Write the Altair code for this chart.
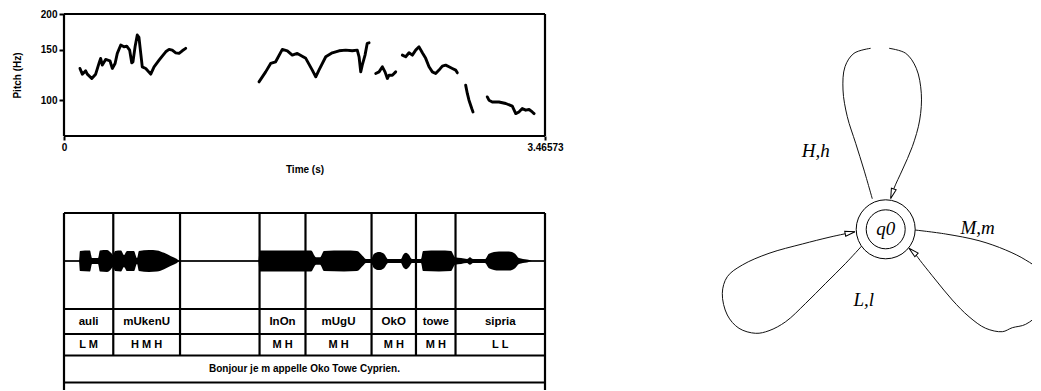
import math
import altair as alt
import pandas as pd

DUR = 3.46573

# ---------------- pitch track (time s, Hz) ----------------
seg1_t = [0.115, 0.132, 0.156, 0.168, 0.200, 0.228, 0.252, 0.264, 0.276, 0.300, 0.331, 0.348, 0.368,
          0.384, 0.409, 0.432, 0.452, 0.473, 0.488, 0.497, 0.512, 0.528, 0.540, 0.553, 0.564, 0.589,
          0.625, 0.649, 0.685, 0.708, 0.733, 0.757, 0.780, 0.805, 0.829, 0.852, 0.877]
seg1_f = [129.1, 123.3, 126.6, 123.3, 119.1, 123.3, 134.4, 140.0, 132.6, 138.8, 137.3, 129.1, 134.4,
          145.7, 155.8, 153.6, 154.5, 149.6, 135.1, 136.2, 153.6, 168.9, 165.8, 145.7, 130.8, 129.1,
          123.3, 130.8, 138.0, 142.6, 147.6, 150.5, 149.6, 146.4, 145.7, 148.8, 151.7]
seg2_t = [1.405, 1.453, 1.489, 1.525, 1.573, 1.609, 1.645, 1.681, 1.742, 1.789, 1.814, 1.837, 1.886,
          1.933, 1.982, 2.030, 2.077, 2.113, 2.126, 2.138, 2.149, 2.169, 2.185, 2.198]
seg2_f = [115.9, 125.6, 134.4, 136.2, 150.5, 148.8, 143.7, 145.7, 140.0, 127.4, 120.7, 127.4, 141.8,
          146.4, 148.8, 149.6, 148.8, 149.6, 141.8, 125.6, 132.6, 143.7, 158.0, 158.7]
seg3_t = [2.246, 2.270, 2.294, 2.313, 2.330, 2.342, 2.366, 2.390]
seg3_f = [124.0, 125.6, 130.8, 125.6, 119.1, 122.3, 122.3, 125.6]
seg4_t = [2.438, 2.462, 2.486, 2.510, 2.534, 2.558, 2.582, 2.606, 2.630, 2.654, 2.678, 2.702, 2.726,
          2.750, 2.774, 2.798, 2.822, 2.834]
seg4_f = [143.7, 141.8, 146.4, 143.7, 149.6, 153.6, 146.4, 140.0, 130.8, 125.6, 124.0, 127.4, 131.5,
          132.6, 130.8, 129.1, 127.4, 124.6]
seg5_t = [2.894, 2.906, 2.918, 2.938, 2.947]
seg5_f = [112.9, 105.6, 100.0, 93.5, 91.0]
seg6_t = [3.050, 3.062, 3.086, 3.134, 3.183, 3.230, 3.255, 3.278, 3.302, 3.327, 3.351, 3.374, 3.387]
seg6_f = [102.7, 100.0, 98.6, 98.6, 97.4, 95.3, 89.8, 91.0, 93.5, 92.3, 92.8, 91.0, 89.8]
F_MIN, F_MAX = 75, 200
F_TICKS = [100, 150, 200]

# ---------------- waveform envelope (time s, relative amplitude) ----------------
env_t = [0.000, 0.108, 0.115, 0.187, 0.202, 0.245, 0.259, 0.310, 0.339, 0.353, 0.368, 0.411, 0.432,
         0.454, 0.504, 0.526, 0.540, 0.613, 0.670, 0.721, 0.771, 0.814, 0.829, 1.401, 1.409, 1.780,
         1.816, 1.845, 1.873, 2.018, 2.111, 2.154, 2.176, 2.212, 2.234, 2.270, 2.306, 2.335, 2.428,
         2.443, 2.464, 2.486, 2.507, 2.572, 2.587, 2.702, 2.789, 2.817, 2.861, 2.904, 2.925, 2.947,
         3.033, 3.062, 3.134, 3.206, 3.250, 3.278, 3.336, 3.372, 3.466]
env_a = [0.01, 0.01, 0.21, 0.22, 0.06, 0.06, 0.22, 0.23, 0.17, 0.125, 0.21, 0.22, 0.125,
         0.21, 0.21, 0.06, 0.21, 0.23, 0.22, 0.17, 0.10, 0.04, 0.01, 0.01, 0.22, 0.22,
         0.08, 0.08, 0.21, 0.22, 0.21, 0.10, 0.04, 0.04, 0.15, 0.19, 0.15, 0.04, 0.04,
         0.125, 0.17, 0.125, 0.04, 0.04, 0.21, 0.22, 0.21, 0.08, 0.06, 0.04, 0.08, 0.04,
         0.04, 0.15, 0.20, 0.20, 0.15, 0.06, 0.03, 0.01, 0.01]

# ---------------- annotation tiers ----------------
bounds_t = [0.0, 0.355, 0.836, 1.409, 1.740, 2.216, 2.536, 2.821, DUR]
words = ["auli", "mUkenU", "", "InOn", "mUgU", "OkO", "towe", "sipria"]
tones = ["L M", "H M H", "", "M H", "M H", "M H", "M H", "L L"]
sentence = "Bonjour je m appelle Oko Towe Cyprien."

# ---------------- automaton (px units relative to state centre, y up) ----------------
top_dx = [-13.4, -21.7, -30.0, -38.4, -42.7, -40.7, -31.7, -15.0, 3.3, 20.0, 30.6, 35.6, 34.0, 26.6, 16.6, 8.3, 5.0]
top_dy = [30.5, 59.3, 86.0, 112.6, 139.3, 162.6, 176.0, 181.0, 181.0, 176.0, 161.0, 136.0, 109.3, 82.6, 59.3, 41.0, 30.8]
left_dx = [-24.0, -40.0, -60.0, -80.0, -100.0, -116.7, -130.0, -146.7, -158.4, -163.4, -158.4, -143.4, -116.7, -83.4, -56.7, -41.7, -30.7]
left_dy = [-16.7, -34.0, -54.0, -74.0, -92.4, -101.4, -104.0, -99.0, -85.7, -64.0, -47.4, -35.7, -24.0, -14.7, -8.0, -4.7, -2.4]
right_dx = [29.3, 60.0, 93.3, 120.0, 140.0, 153.3, 162.0, 155.0, 140.0, 126.6, 116.6, 100.0, 83.3, 66.6, 50.0, 36.6, 28.3, 23.3]
right_dy = [-0.7, -4.7, -11.4, -20.7, -30.7, -40.7, -60.0, -82.0, -95.0, -98.4, -102.4, -99.0, -87.4, -70.7, -50.7, -34.0, -23.4, -19.0]
edge_labels = ["H,h", "M,m", "L,l"]
edge_lx = [-70.0, 92.0, -22.0]
edge_ly = [78.0, 1.0, -71.0]
state_name = "q0"

SANS = "Liberation Sans"
SERIF = "Liberation Serif"

# ======== pitch panel ========
rows = []
for i, (ts, fs) in enumerate([(seg1_t, seg1_f), (seg2_t, seg2_f), (seg3_t, seg3_f),
                              (seg4_t, seg4_f), (seg5_t, seg5_f), (seg6_t, seg6_f)]):
    for t, f in zip(ts, fs):
        rows.append({"t": t, "f": f, "seg": i})
pitch_df = pd.DataFrame(rows)

xs_p = alt.Scale(domain=[0, DUR], nice=False, zero=False)
ys_p = alt.Scale(type="log", domain=[F_MIN, F_MAX], nice=False)

pitch_line = alt.Chart(pitch_df).mark_line(
    color="black", strokeWidth=2.9, strokeJoin="round", strokeCap="round"
).encode(
    x=alt.X("t:Q", scale=xs_p,
            axis=alt.Axis(values=[0, DUR], format=".6", title="Time (s)", grid=False, domain=False,
                          tickSize=4, tickWidth=2, tickColor="black", labelPadding=2,
                          labelFont=SANS, labelFontSize=10, labelFontWeight="bold", labelColor="black",
                          labelFlush=False, titleFont=SANS, titleFontSize=10, titleFontWeight="bold",
                          titleColor="black", titlePadding=12)),
    y=alt.Y("f:Q", scale=ys_p,
            axis=alt.Axis(values=F_TICKS, title="Pitch (Hz)", grid=False, domain=False,
                          tickSize=5, tickWidth=2, tickColor="black", labelPadding=2,
                          labelFont=SANS, labelFontSize=10, labelFontWeight="bold", labelColor="black",
                          labelFlush=False, titleFont=SANS, titleFontSize=10, titleFontWeight="bold",
                          titleColor="black", titlePadding=18)),
    detail="seg:N",
)
box_h = alt.Chart(pd.DataFrame({"t": [0.0, 0.0], "t2": [DUR, DUR], "f": [F_MIN, F_MAX]})).mark_rule(
    color="black", strokeWidth=2.2).encode(x="t:Q", x2="t2:Q", y="f:Q")
box_v = alt.Chart(pd.DataFrame({"t": [0.0, DUR], "f": [F_MIN, F_MIN], "f2": [F_MAX, F_MAX]})).mark_rule(
    color="black", strokeWidth=2.2).encode(x="t:Q", y="f:Q", y2="f2:Q")
pitch = alt.layer(pitch_line, box_h, box_v).properties(width=481, height=122)

# ======== tier panel (y in px units from top of box) ========
WAVE_C, WAVE_H = 48, 48
Y_LINES = [0, 96, 121, 142.5, 169.5]
Y_BOUND_END, Y_STUB = 142.5, 177
Y_WORD, Y_TONE, Y_SENT = 108.5, 132, 156

xs_t = alt.Scale(domain=[0, DUR], nice=False, zero=False)
ys_t = alt.Scale(domain=[0, Y_STUB], reverse=True, nice=False, zero=False)

env_df = pd.DataFrame({"t": env_t, "amp": env_a})
wave = alt.Chart(env_df).transform_calculate(
    y1=f"{WAVE_C} - datum.amp * {WAVE_H}", y2=f"{WAVE_C} + datum.amp * {WAVE_H}"
).mark_area(color="black", interpolate="monotone").encode(
    x=alt.X("t:Q", scale=xs_t, axis=None),
    y=alt.Y("y1:Q", scale=ys_t, axis=None),
    y2="y2:Q",
)

centre = alt.Chart(pd.DataFrame({"x": [0.0], "x2": [DUR], "y": [WAVE_C]})).mark_rule(
    color="black", strokeWidth=1.5).encode(
    x=alt.X("x:Q", scale=xs_t, axis=None), x2="x2:Q", y=alt.Y("y:Q", scale=ys_t, axis=None))

hl = alt.Chart(pd.DataFrame({"x": [0.0] * len(Y_LINES), "x2": [DUR] * len(Y_LINES), "y": Y_LINES})).mark_rule(
    color="black", strokeWidth=2.2).encode(
    x=alt.X("x:Q", scale=xs_t, axis=None), x2="x2:Q", y=alt.Y("y:Q", scale=ys_t, axis=None))

vrows = [{"x": bounds_t[0], "y": 0, "y2": Y_STUB}, {"x": bounds_t[-1], "y": 0, "y2": Y_STUB}]
for b in bounds_t[1:-1]:
    vrows.append({"x": b, "y": 0, "y2": Y_BOUND_END})
vl = alt.Chart(pd.DataFrame(vrows)).mark_rule(color="black", strokeWidth=2.2).encode(
    x=alt.X("x:Q", scale=xs_t, axis=None), y=alt.Y("y:Q", scale=ys_t, axis=None), y2="y2:Q")

lab_rows = []
for i in range(len(words)):
    mid = (bounds_t[i] + bounds_t[i + 1]) / 2
    lab_rows.append({"x": mid, "y": Y_WORD, "s": words[i], "fs": 11.5})
    lab_rows.append({"x": mid, "y": Y_TONE, "s": tones[i], "fs": 11})
lab_rows.append({"x": DUR / 2, "y": Y_SENT, "s": sentence, "fs": 10})
labels = alt.Chart(pd.DataFrame(lab_rows)).mark_text(
    font=SANS, fontWeight="bold", color="black").encode(
    x=alt.X("x:Q", scale=xs_t, axis=None), y=alt.Y("y:Q", scale=ys_t, axis=None), text="s:N",
    size=alt.Size("fs:Q", scale=None))

tiers = alt.layer(wave, centre, hl, vl, labels).properties(width=481, height=Y_STUB)

# ======== automaton panel ========
DW, DH = 433, 345
CX, CY = 286.7, 215.3   # state centre offset from the panel's top-left corner
xs_d = alt.Scale(domain=[-CX, DW - CX], nice=False, zero=False)
ys_d = alt.Scale(domain=[CY - DH, CY], nice=False, zero=False)

loop_rows, arrow_rows = [], []
for name, dxs, dys, split in [("top", top_dx, top_dy, 8), ("left", left_dx, left_dy, None),
                              ("right", right_dx, right_dy, None)]:
    for i, (a, b) in enumerate(zip(dxs, dys)):
        seg = name if (split is None or i < split) else name + "_b"
        loop_rows.append({"x": a, "y": b, "seg": seg, "o": i})
    ux, uy = dxs[-1] - dxs[-2], dys[-1] - dys[-2]
    n = math.hypot(ux, uy)
    ux, uy = ux / n, uy / n
    arrow_rows.append({"x": dxs[-1] - ux * 5, "y": dys[-1] - uy * 5,
                       "ang": math.degrees(math.atan2(ux, uy)) % 360})

loops = alt.Chart(pd.DataFrame(loop_rows)).mark_line(
    color="#111", strokeWidth=1, interpolate="catmull-rom", clip=True).encode(
    x=alt.X("x:Q", scale=xs_d, axis=None), y=alt.Y("y:Q", scale=ys_d, axis=None),
    detail="seg:N", order="o:Q")

arrows = alt.Chart(pd.DataFrame(arrow_rows)).mark_point(
    shape="M0,-1L0.5,1L-0.5,1Z", size=100, filled=True, fill="white", stroke="black",
    strokeWidth=1, opacity=1).encode(
    x=alt.X("x:Q", scale=xs_d, axis=None), y=alt.Y("y:Q", scale=ys_d, axis=None),
    angle=alt.Angle("ang:Q", scale=None))

circ_df = pd.DataFrame({"x": [0.0, 0.0], "y": [0.0, 0.0], "r": [29.5, 19.5]})
circles = alt.Chart(circ_df).transform_calculate(s="(2*datum.r)*(2*datum.r)").mark_point(
    shape="circle", filled=False, color="black", strokeWidth=1, opacity=1).encode(
    x=alt.X("x:Q", scale=xs_d, axis=None), y=alt.Y("y:Q", scale=ys_d, axis=None),
    size=alt.Size("s:Q", scale=None))

txt_df = pd.DataFrame({"x": edge_lx + [0.0], "y": edge_ly + [0.0], "s": edge_labels + [state_name]})
texts = alt.Chart(txt_df).mark_text(font=SERIF, fontStyle="italic", fontSize=19, color="black").encode(
    x=alt.X("x:Q", scale=xs_d, axis=None), y=alt.Y("y:Q", scale=ys_d, axis=None), text="s:N")

diagram = alt.layer(loops, circles, arrows, texts).properties(width=DW, height=DH)

left = alt.vconcat(pitch, tiers, spacing=77, bounds="flush")
chart = alt.hconcat(left, diagram, spacing=35).properties(
    padding={"left": 4, "top": 1, "right": 0, "bottom": 0}, background="white"
).configure_view(strokeWidth=0, stroke="transparent")

chart.save("out.html", embed_options={"renderer": "svg", "actions": False})
